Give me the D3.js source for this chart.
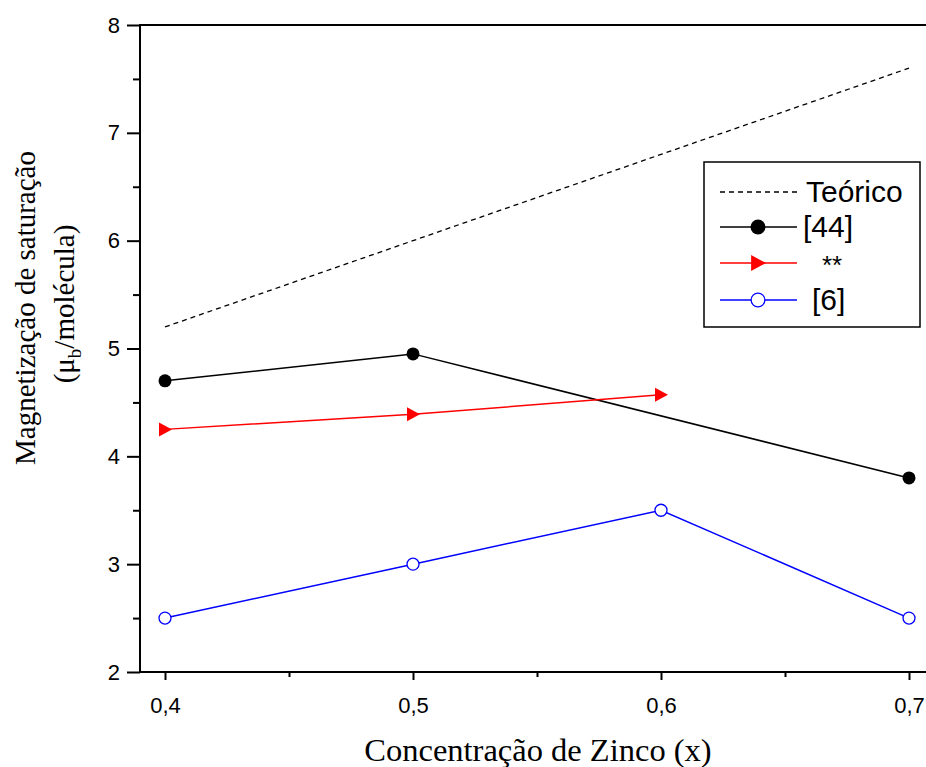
<!DOCTYPE html>
<html><head><meta charset="utf-8">
<script src="https://cdn.jsdelivr.net/npm/d3@7"></script>
<style>body{margin:0;background:#fff}</style>
</head><body>
<svg id="c" width="926" height="767"></svg>
<script>
const xTicks = [0.4, 0.5, 0.6, 0.7];
const xTickLabels = ["0,4", "0,5", "0,6", "0,7"];
const yTicks = [2, 3, 4, 5, 6, 7, 8];
const teoricoX = [0.4, 0.5, 0.6, 0.7];
const teoricoY = [5.2, 6.0, 6.8, 7.6];
const ref44X = [0.4, 0.5, 0.7];
const ref44Y = [4.7, 4.95, 3.8];
const starX = [0.4, 0.5, 0.6];
const starY = [4.25, 4.39, 4.57];
const ref6X = [0.4, 0.5, 0.6, 0.7];
const ref6Y = [2.5, 3.0, 3.5, 2.5];
const legendLabels = ["Teórico", "[44]", "**", "[6]"];

const svg = d3.select("#c");
const L = 140, T = 25, B = 672, R = 940;
const x = d3.scaleLinear().domain([0.4, 0.7]).range([165, 909]);
const y = d3.scaleLinear().domain([2, 8]).range([B, T]);
const sans = "Liberation Sans, Arial, sans-serif";
const serif = "Liberation Serif, Times New Roman, serif";

// frame: top line
svg.append("line").attr("x1", L).attr("x2", R).attr("y1", T).attr("y2", T)
  .attr("stroke", "#000").attr("stroke-width", 2);

// axes
const xAxis = d3.axisBottom(x).tickValues(xTicks).tickFormat((d, i) => xTickLabels[i]).tickSize(8).tickSizeOuter(0);
const gx = svg.append("g").attr("transform", `translate(0,${B})`).call(xAxis);
gx.select(".domain").remove();
svg.append("line").attr("x1", L).attr("x2", R).attr("y1", B).attr("y2", B).attr("stroke", "#000").attr("stroke-width", 2);
gx.selectAll(".tick line").attr("stroke-width", 2);
gx.selectAll(".tick text").attr("font-family", sans).attr("font-size", 22).attr("y", 41).attr("dy", 0);
const xMinor = d3.axisBottom(x).tickValues([0.45, 0.55, 0.65]).tickFormat("").tickSize(5).tickSizeOuter(0);
const gxm = svg.append("g").attr("transform", `translate(0,${B})`).call(xMinor);
gxm.select(".domain").remove();
gxm.selectAll(".tick line").attr("stroke-width", 2);

const yAxis = d3.axisLeft(y).tickValues(yTicks).tickFormat(d3.format("d")).tickSize(13).tickSizeOuter(0);
const gy = svg.append("g").attr("transform", `translate(${L},0)`).call(yAxis);
gy.select(".domain").remove();
svg.append("line").attr("x1", L).attr("x2", L).attr("y1", T - 1).attr("y2", B + 1).attr("stroke", "#000").attr("stroke-width", 2);
gy.selectAll(".tick line").attr("stroke-width", 2);
gy.selectAll(".tick text").attr("font-family", sans).attr("font-size", 22).attr("x", -20);
const yMinor = d3.axisLeft(y).tickValues([2.5, 3.5, 4.5, 5.5, 6.5, 7.5]).tickFormat("").tickSize(7).tickSizeOuter(0);
const gym = svg.append("g").attr("transform", `translate(${L},0)`).call(yMinor);
gym.select(".domain").remove();
gym.selectAll(".tick line").attr("stroke-width", 2);

// axis titles
svg.append("text").attr("x", 538).attr("y", 761).attr("text-anchor", "middle")
  .attr("font-family", serif).attr("font-size", 32.5)
  .text("Concentração de Zinco (x)");
const yt = svg.append("text").attr("transform", "translate(35,308) rotate(-90)").attr("text-anchor", "middle")
  .attr("font-family", serif).attr("font-size", 29);
yt.append("tspan").attr("x", 0).attr("y", 0).text("Magnetização de saturação");
const yt2 = svg.append("text").attr("transform", "translate(74,304) rotate(-90)").attr("text-anchor", "middle")
  .attr("font-family", serif).attr("font-size", 29);
yt2.append("tspan").text("(μ");
yt2.append("tspan").attr("font-size", 19).attr("dy", 7).text("b");
yt2.append("tspan").attr("dy", -7).text("/molécula)");

const line = d3.line().x(d => x(d[0])).y(d => y(d[1]));
const zip = (a, b) => a.map((v, i) => [v, b[i]]);

// series
svg.append("path").attr("d", line(zip(teoricoX, teoricoY))).attr("fill", "none")
  .attr("stroke", "#000").attr("stroke-width", 1.3).attr("stroke-dasharray", "5,4");
svg.append("path").attr("d", line(zip(ref44X, ref44Y))).attr("fill", "none")
  .attr("stroke", "#000").attr("stroke-width", 1.5);
svg.append("path").attr("d", line(zip(starX, starY))).attr("fill", "none")
  .attr("stroke", "#ff0000").attr("stroke-width", 1.5);
svg.append("path").attr("d", line(zip(ref6X, ref6Y))).attr("fill", "none")
  .attr("stroke", "#0000ff").attr("stroke-width", 1.5);

function dot(g, cx, cy, kind, s) {
  if (kind === "black") g.append("circle").attr("cx", cx).attr("cy", cy).attr("r", 6.5 * s).attr("fill", "#000");
  if (kind === "red") g.append("path").attr("d", `M${-6*s},${-7*s}L${7*s},0L${-6*s},${7*s}Z`).attr("transform", `translate(${cx},${cy})`).attr("fill", "#ff0000");
  if (kind === "blue") g.append("circle").attr("cx", cx).attr("cy", cy).attr("r", 6 * s).attr("fill", "#fff").attr("stroke", "#0000ff").attr("stroke-width", 1.3);
}
zip(ref44X, ref44Y).forEach(d => dot(svg, x(d[0]), y(d[1]), "black", 1));
zip(starX, starY).forEach(d => dot(svg, x(d[0]), y(d[1]), "red", 1));
zip(ref6X, ref6Y).forEach(d => dot(svg, x(d[0]), y(d[1]), "blue", 1));

// legend
const lg = svg.append("g");
lg.append("rect").attr("x", 704).attr("y", 162).attr("width", 216).attr("height", 165)
  .attr("fill", "#fff").attr("stroke", "#000").attr("stroke-width", 1.5);
const rows = [192, 227, 263, 300];
const colors = ["#000", "#000", "#ff0000", "#0000ff"];
const kinds = [null, "black", "red", "blue"];
const textX = [806, 803, 822, 812];
legendLabels.forEach((lab, i) => {
  const l = lg.append("line").attr("x1", 720).attr("x2", 797).attr("y1", rows[i]).attr("y2", rows[i])
    .attr("stroke", colors[i]).attr("stroke-width", i === 0 ? 1.3 : 1.5);
  if (i === 0) l.attr("stroke-dasharray", "5,4");
  if (kinds[i]) dot(lg, 758, rows[i], kinds[i], 1.15);
  lg.append("text").attr("x", textX[i]).attr("y", rows[i] + (i === 2 ? 11 : 10))
    .attr("font-family", sans).attr("font-size", i === 2 ? 26 : 30)
    .text(lab);
});
</script>
</body></html>
